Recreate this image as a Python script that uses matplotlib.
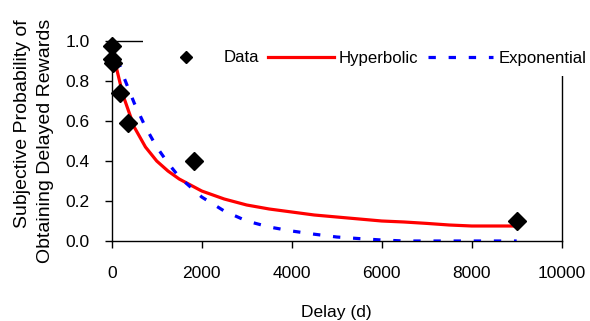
import matplotlib
matplotlib.use("Agg")
import matplotlib.pyplot as plt

plt.rcParams['font.family'] = ['Liberation Sans', 'DejaVu Sans']

# Observed data (delay in days, subjective probability)
data_delay = [1, 7, 30, 180, 365, 1825, 9000]
data_prob = [0.975, 0.91, 0.89, 0.74, 0.59, 0.40, 0.10]

# Fitted curves
curve_delay = [0, 100, 250, 500, 750, 1000, 1250, 1500, 1750, 2000, 2500, 3000,
               3500, 4000, 4500, 5000, 5500, 6000, 6500, 7000, 7500, 8000, 8500, 9000]
hyperbolic = [1.00, 0.87, 0.73, 0.57, 0.47, 0.40, 0.35, 0.31, 0.28, 0.25, 0.21, 0.18,
              0.16, 0.145, 0.13, 0.12, 0.11, 0.10, 0.095, 0.088, 0.08, 0.075, 0.075, 0.075]
exponential = [1.00, 0.93, 0.83, 0.69, 0.57, 0.47, 0.39, 0.32, 0.27, 0.22, 0.15, 0.10,
               0.07, 0.05, 0.034, 0.02, 0.012, 0.005, 0.0, 0.0, 0.0, 0.0, 0.0, 0.0]

x_ticks = [0, 2000, 4000, 6000, 8000, 10000]
y_ticks = [0.0, 0.2, 0.4, 0.6, 0.8, 1.0]

W, H = 590, 321
fig = plt.figure(figsize=(W / 100, H / 100), dpi=100)
ax = fig.add_axes([111.7 / W, 1 - 241 / H, 450 / W, 200 / H])

ax.plot(curve_delay, hyperbolic, color='#ff0000', lw=2.3, label='Hyperbolic', zorder=3)
ax.plot(curve_delay, exponential, color='#0000ff', lw=2.3, dashes=(2.3, 4.0),
        label='Exponential', zorder=3)
ax.plot(data_delay, data_prob, linestyle='none', marker='D', color='black',
        markersize=9.5, label='Data', zorder=4, clip_on=False)

ax.set_xlim(0, 10000)
ax.set_ylim(0, 1.0)
ax.set_xticks(x_ticks)
ax.set_yticks(y_ticks)
ax.set_xticklabels([str(v) for v in x_ticks])
ax.set_yticklabels([f"{v:.1f}" for v in y_ticks])
ax.tick_params(axis='both', direction='out', length=5, width=1, labelsize=12.5,
               colors='black')
ax.tick_params(axis='x', pad=13)
ax.tick_params(axis='y', pad=11)
for s in ax.spines.values():
    s.set_linewidth(1)
    s.set_color('black')

ax.set_xlabel('Delay (d)', fontsize=12.5, labelpad=17)

fig.text(23 / W, 1 - 124 / H, 'Subjective Probability of', rotation=90,
         ha='center', va='center', fontsize=14)
fig.text(46 / W, 1 - 141 / H, 'Obtaining Delayed Rewards', rotation=90,
         ha='center', va='center', fontsize=14)

handles, labels = ax.get_legend_handles_labels()
order = [2, 0, 1]
leg = ax.legend([handles[i] for i in order], [labels[i] for i in order],
                loc='center left', bbox_to_anchor=(143 / W, 1 - 58 / H),
                bbox_transform=fig.transFigure, ncol=3, fontsize=12.1,
                frameon=True, facecolor='white', edgecolor='none', framealpha=1,
                fancybox=False, borderpad=0.6, handlelength=3.9,
                handletextpad=0.3, columnspacing=0.55, markerscale=0.62,
                borderaxespad=0)
leg.set_zorder(10)

fig.savefig('out.png', dpi=100)
